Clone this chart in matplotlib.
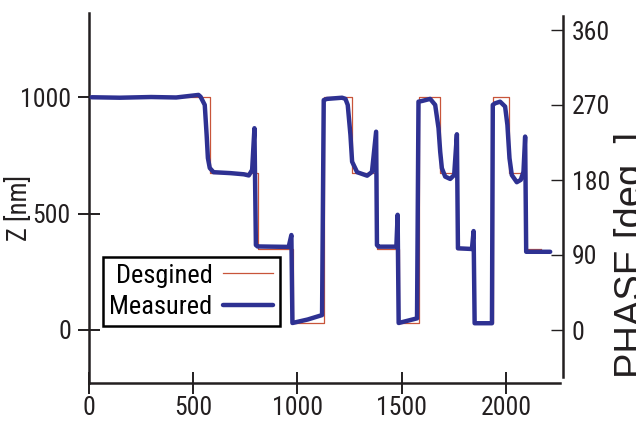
import matplotlib
matplotlib.use("Agg")
import matplotlib.pyplot as plt
from matplotlib import font_manager

# ---------------- data ----------------
# Designed profile (step edges in x, level that starts at each edge)
designed_x = [0, 580, 810, 982, 1130, 1264, 1382, 1487, 1585, 1683, 1767, 1848, 1939, 2016, 2092, 2166]
designed_z = [1000, 675, 347, 28, 1000, 675, 347, 28, 1000, 675, 347, 28, 1000, 675, 347, 347]

# Measured profile
measured_x = [15, 150, 300, 420, 527, 537, 557, 566, 572, 581, 599, 680, 744, 768, 784, 795,
              802, 810, 880, 959, 972, 977, 1050, 1119, 1127, 1143, 1215, 1231, 1242, 1255,
              1263, 1287, 1335, 1358, 1378, 1382, 1389, 1475, 1481, 1486, 1574, 1581, 1598,
              1637, 1661, 1677, 1685, 1693, 1709, 1733, 1752, 1765, 1770, 1837, 1845, 1850,
              1933, 1937, 1948, 1972, 1996, 2007, 2017, 2028, 2052, 2071, 2084, 2092, 2097, 2212]
measured_z = [1000, 998, 1001, 999, 1010, 1002, 967, 838, 739, 696, 678, 674, 669, 664, 688, 867,
              365, 359, 358, 357, 408, 30, 45, 64, 988, 993, 998, 993, 967, 838,
              723, 678, 663, 679, 852, 365, 358, 358, 495, 30, 50, 981, 984,
              993, 967, 867, 766, 695, 659, 649, 666, 841, 351, 348, 425, 29,
              29, 967, 974, 981, 960, 881, 738, 666, 635, 645, 680, 831, 336, 336]

x_ticks = [0, 500, 1000, 1500, 2000]
z_ticks = [0, 500, 1000]
phase_ticks = [0, 90, 180, 270, 360]

labels = ["Desgined", "Measured"]

# ---------------- style ----------------
W, H = 636, 421
DPI = 100

fl = font_manager.fontManager.ttflist
names = {f.name for f in fl}
font_kw = None
for cand in ["Liberation Sans Narrow", "Roboto Condensed", "Open Sans Condensed",
             "Noto Sans Condensed", "DejaVu Sans Condensed"]:
    if cand in names:
        font_kw = dict(family=[cand, "DejaVu Sans"], fontstretch="normal")
        break
if font_kw is None:
    cond = [f for f in fl if f.name == "DejaVu Sans" and str(f.stretch) in ("condensed", "semi-condensed")]
    if cond:
        font_kw = dict(family=["DejaVu Sans"], fontstretch="condensed")
    else:
        font_kw = dict(family=["Liberation Sans", "DejaVu Sans"], fontstretch="normal")

plt.rcParams["font.family"] = font_kw["family"]
plt.rcParams["font.stretch"] = font_kw["fontstretch"]
regular = ["Liberation Sans", "DejaVu Sans"]

ink = "#231f20"
blue = "#2e3192"
red = "#c8553a"

fig = plt.figure(figsize=(W / DPI, H / DPI), dpi=DPI)
renderer = fig.canvas.get_renderer()


def fit_size(s, target_w, lo, hi, **kw):
    t = fig.text(0, 0, s, fontsize=10, **kw)
    w = t.get_window_extent(renderer).width
    t.remove()
    return max(lo, min(hi, 10 * target_w / w))


tick_fs = fit_size("1000", 50, 18.5, 19.5)
leg_fs = fit_size("Desgined", 96, 18.5, 19.5)
zlab_fs = fit_size("Z [nm]", 66, 19, 21)
phase_fs = fit_size("PHASE [deg. ]", 245, 18, 28, family=regular, fontstretch="normal")


def px_rect(left, top, right, bottom):
    return [left / W, 1 - bottom / H, (right - left) / W, (bottom - top) / H]


ax = fig.add_axes(px_rect(88.5, 13, 560, 382.7))
ax.plot(designed_x, designed_z, drawstyle="steps-post", color=red, lw=0.9, label=labels[0], zorder=2)
ax.plot(measured_x, measured_z, color=blue, lw=3.2, label=labels[1], zorder=3,
        solid_joinstyle="round", solid_capstyle="round")

ax.set_xlim(3, 2259)
ax.set_ylim(-226.5, 1362)
ax.set_xticks(x_ticks)
ax.set_yticks(z_ticks)
for s in ("top", "right"):
    ax.spines[s].set_visible(False)
for s in ("left", "bottom"):
    ax.spines[s].set_linewidth(1.8)
    ax.spines[s].set_color(ink)
ax.tick_params(axis="both", direction="inout", length=15.5, width=1.4, color=ink,
               labelsize=tick_fs, labelcolor=ink)
ax.tick_params(axis="y", pad=5.0)
ax.tick_params(axis="x", pad=2.0)

fig.text(19.5 / W, 1 - 207.5 / H, "Z [nm]", rotation=90, ha="center", va="center",
         fontsize=zlab_fs, color=ink)

leg = ax.legend(loc="upper left", bbox_to_anchor=(102.7 / W, 1 - 257 / H),
                bbox_transform=fig.transFigure, borderaxespad=0, markerfirst=False,
                fontsize=leg_fs, handlelength=1.9, handletextpad=0.4, borderpad=0.25,
                labelspacing=0.3, fancybox=False, framealpha=1, edgecolor="black")
leg.get_frame().set_linewidth(1.8)

# right (phase) axis
ax2 = fig.add_axes(px_rect(550, 16, 562.7, 377))
ax2.set_ylim(-56.4, 376.8)
ax2.set_xticks([])
ax2.patch.set_visible(False)
for s in ("top", "bottom", "left"):
    ax2.spines[s].set_visible(False)
ax2.spines["right"].set_linewidth(1.8)
ax2.spines["right"].set_color(ink)
ax2.yaxis.tick_right()
ax2.set_yticks(phase_ticks)
ax2.tick_params(axis="y", direction="in", length=9, width=1.0, color=ink,
                labelsize=tick_fs, labelcolor=ink, pad=6.5)

fig.text(614 / W, 1 - 255 / H, "PHASE [deg. ]", rotation=90, ha="left", va="center",
         fontsize=phase_fs, color=ink, family=regular, fontstretch="normal")

fig.savefig("out.png", dpi=DPI)
